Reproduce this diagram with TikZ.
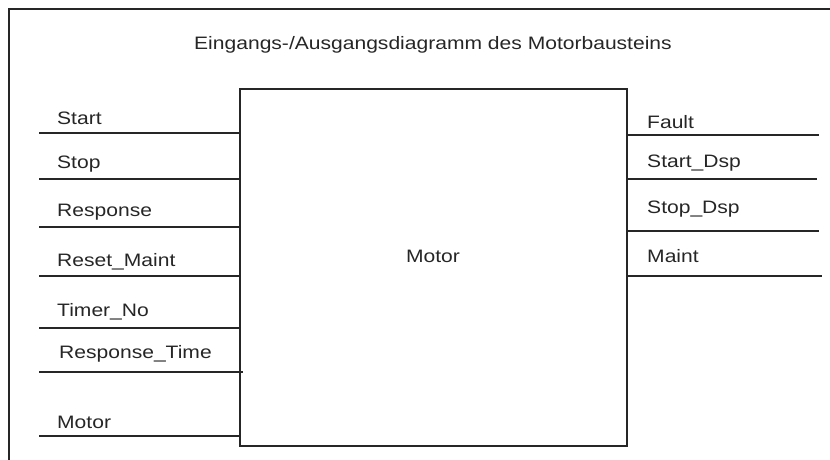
\documentclass[tikz,border=0pt]{standalone}
\usepackage{fontspec}
\setmainfont{Liberation Sans}[FakeStretch=1.17]
\begin{document}
\begin{tikzpicture}[x=1pt,y=-1pt,
  wire/.style={line width=1.4pt,black!85},
  lbl/.style={anchor=west,inner sep=0pt,font=\fontsize{18}{20}\selectfont,text=black!85},
  blockbox/.style={draw=black!85,line width=1.4pt,minimum width=387pt,minimum height=357pt,inner sep=0pt}]
\useasboundingbox (0,0) rectangle (830,459);
% frame
\coordinate (fb) at (9,470);
\coordinate (fc) at (9,9);
\coordinate (fr) at (840,9);
\draw[wire] (fb) -- (fc) -- (fr);
% title
\node[lbl,anchor=center] (title) at (433,45) {Eingangs-/Ausgangsdiagramm des Motorbausteins};
% block
\node[blockbox] (motor) at (433.5,267.5) {};
\node[lbl,anchor=center] (mlabel) at (433,256) {Motor};
% inputs
\foreach \n/\y/\t/\ty in {i1/133/Start/118, i2/179/Stop/164, i3/227/Response/212, i4/276/Reset\_Maint/262, i5/328/Timer\_No/312, i7/436/Motor/422}{
  \coordinate (\n) at (39,\y);
  \draw[wire] (\n) -- (\n -| motor.west);
  \node[lbl] (\n t) at (57,\ty) {\t};
}
\coordinate (i6) at (39,372);
\coordinate (i6e) at (243,372);
\draw[wire] (i6) -- (i6e);
\node[lbl] (i6t) at (59,354) {Response\_Time};
% outputs
\foreach \n/\y/\t/\ty/\xe in {o1/135/Fault/122/819, o2/179/Start\_Dsp/163/817, o3/231/Stop\_Dsp/209/819, o4/276/Maint/256/822}{
  \coordinate (\n) at (\xe,\y);
  \draw[wire] (\n -| motor.east) -- (\n);
  \node[lbl] (\n t) at (647,\ty) {\t};
}
\end{tikzpicture}
\end{document}
